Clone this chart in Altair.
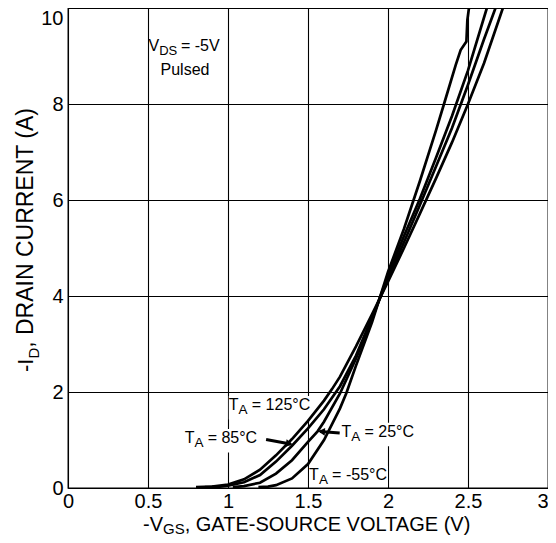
import altair as alt
import pandas as pd

# ---- data ----
series_names = ["TA = 125°C", "TA = 85°C", "TA = 25°C", "TA = -55°C"]

v_125 = [0.80, 0.90, 1.00, 1.10, 1.20, 1.30, 1.40, 1.50, 1.60, 1.65, 1.70, 1.80, 1.90, 2.00, 2.10, 2.20, 2.30, 2.40, 2.50, 2.60, 2.718]
i_125 = [0.02, 0.03, 0.07, 0.18, 0.38, 0.68, 1.02, 1.40, 1.82, 2.06, 2.32, 2.95, 3.62, 4.30, 5.00, 5.72, 6.45, 7.20, 8.00, 8.85, 10.0]

v_85 = [0.855, 0.95, 1.00, 1.10, 1.20, 1.30, 1.40, 1.50, 1.60, 1.70, 1.80, 1.90, 2.00, 2.10, 2.20, 2.30, 2.40, 2.50, 2.60, 2.672]
i_85 = [0.02, 0.03, 0.05, 0.12, 0.27, 0.55, 0.88, 1.24, 1.64, 2.12, 2.76, 3.55, 4.35, 5.12, 5.90, 6.70, 7.50, 8.40, 9.35, 10.0]

v_25 = [1.03, 1.10, 1.20, 1.30, 1.40, 1.50, 1.56, 1.60, 1.70, 1.80, 1.90, 2.00, 2.10, 2.20, 2.30, 2.40, 2.50, 2.618]
i_25 = [0.02, 0.04, 0.11, 0.30, 0.58, 0.96, 1.18, 1.38, 1.97, 2.70, 3.52, 4.42, 5.25, 6.03, 6.88, 7.75, 8.70, 10.0]

v_m55 = [1.19, 1.25, 1.30, 1.40, 1.50, 1.60, 1.70, 1.74, 1.80, 1.90, 2.00, 2.10, 2.20, 2.30, 2.35, 2.423, 2.454, 2.49, 2.496, 2.506]
i_m55 = [0.02, 0.03, 0.06, 0.20, 0.50, 1.00, 1.66, 1.98, 2.55, 3.45, 4.50, 5.40, 6.40, 7.45, 8.00, 8.81, 9.125, 9.30, 9.75, 10.0]

x_ticks = [0, 0.5, 1, 1.5, 2, 2.5, 3]
y_ticks = [0, 2, 4, 6, 8, 10]

# temperature labels (anchor = left end of baseline), text after the subscript
lab_x = [1.005, 0.729, 1.709, 1.507]
lab_y = [1.625, 0.94, 1.07, 0.167]
lab_rest = ["= 125°C", "= 85°C", "= 25°C", "= -55°C"]
lab_wpx = [82, 73, 73, 78]

# arrows: start -> tip
arr_x = [1.238, 1.698]
arr_y = [1.01, 1.147]
arr_x2 = [1.39, 1.575]
arr_y2 = [0.918, 1.177]
head_x = [1.383, 1.585]
head_y = [0.922, 1.175]
head_angle = [10, 4]

FONT = "Liberation Sans"

rows = []
for name, vs, cs in zip(series_names, [v_125, v_85, v_25, v_m55], [i_125, i_85, i_25, i_m55]):
    for k, (v, c) in enumerate(zip(vs, cs)):
        rows.append({"x": v, "y": c, "series": name, "k": k})
curves = pd.DataFrame(rows)

X = alt.X("x:Q", scale=alt.Scale(domain=[0, 3], nice=False, zero=False),
          axis=alt.Axis(values=x_ticks, format="~g", title=None, grid=True, ticks=False,
                        domain=False, labelFlush=False, labelPadding=3,
                        labelAlign={"condition": {"test": "datum.value >= 3", "value": "right"},
                                    "value": "center"}))
Y = alt.Y("y:Q", scale=alt.Scale(domain=[0, 10], nice=False),
          axis=alt.Axis(values=y_ticks, format="d", title=None, grid=True, ticks=False,
                        domain=False, labelFlush=False, labelPadding=5,
                        labelBaseline={"condition": {"test": "datum.value >= 10", "value": "top"},
                                       "value": "middle"}))

base_lab = pd.DataFrame({"x": lab_x, "y": lab_y, "rest": lab_rest, "w": lab_wpx})
base_lab["T"] = "T"
base_lab["A"] = "A"

box_df = pd.DataFrame({
    "x": base_lab["x"],
    "x2": base_lab["x"] + base_lab["w"] / 160.0 + 0.005,
    "y": (base_lab["y"] - 0.2).clip(lower=0.02),
    "y2": base_lab["y"] + 0.29,
})

boxes = alt.Chart(box_df).mark_rect(color="white").encode(
    x=X, x2="x2:Q", y=Y, y2="y2:Q",
)

lines = alt.Chart(curves).mark_line(color="black", strokeWidth=2.7).encode(
    x=X, y=Y, detail="series:N", order="k:Q"
)

arrows_df = pd.DataFrame({"x": arr_x, "y": arr_y, "x2": arr_x2, "y2": arr_y2})
shafts = alt.Chart(arrows_df).mark_rule(color="black", strokeWidth=3).encode(
    x=X, y=Y, x2="x2:Q", y2="y2:Q"
)
heads_df = pd.DataFrame({"x": head_x, "y": head_y, "ang": head_angle,
                         "shape": ["triangle-right", "triangle-left"]})
heads = alt.Chart(heads_df).mark_point(filled=True, color="black", opacity=1, size=60).encode(
    x=X, y=Y, angle=alt.Angle("ang:Q", scale=None), shape=alt.Shape("shape:N", scale=None)
)

txt_T = alt.Chart(base_lab).mark_text(align="left", baseline="alphabetic", fontSize=16,
                                      font=FONT, color="black").encode(x=X, y=Y, text="T:N")
txt_A = alt.Chart(base_lab).mark_text(align="left", baseline="alphabetic", fontSize=13.5,
                                      font=FONT, color="black", dx=9.8, dy=4).encode(x=X, y=Y, text="A:N")
txt_R = alt.Chart(base_lab).mark_text(align="left", baseline="alphabetic", fontSize=16,
                                      font=FONT, color="black", dx=23).encode(x=X, y=Y, text="rest:N")

vds = pd.DataFrame({"x": [0.503], "y": [9.11], "a": ["V"], "b": ["DS"], "c": ["= -5V"]})
vds_a = alt.Chart(vds).mark_text(align="left", baseline="alphabetic", fontSize=16, font=FONT,
                                 color="black").encode(x=X, y=Y, text="a:N")
vds_b = alt.Chart(vds).mark_text(align="left", baseline="alphabetic", fontSize=13, font=FONT,
                                 color="black", dx=10.7, dy=4.5).encode(x=X, y=Y, text="b:N")
vds_c = alt.Chart(vds).mark_text(align="left", baseline="alphabetic", fontSize=16, font=FONT,
                                 color="black", dx=32.5).encode(x=X, y=Y, text="c:N")
pulsed = alt.Chart(pd.DataFrame({"x": [0.731], "y": [8.6], "t": ["Pulsed"]})).mark_text(
    align="center", baseline="alphabetic", fontSize=16, font=FONT, color="black"
).encode(x=X, y=Y, text="t:N")

# axis titles composed of pieces (subscripts)
XT_BASE = 522.5
x_title_1 = alt.Chart(pd.DataFrame({"t": ["-V"]})).mark_text(
    align="left", baseline="alphabetic", fontSize=20, font=FONT, color="black"
).encode(x=alt.value(75), y=alt.value(XT_BASE), text="t:N")
x_title_2 = alt.Chart(pd.DataFrame({"t": ["GS"]})).mark_text(
    align="left", baseline="alphabetic", fontSize=15, font=FONT, color="black"
).encode(x=alt.value(95), y=alt.value(XT_BASE + 3), text="t:N")
x_title_3 = alt.Chart(pd.DataFrame({"t": [", GATE-SOURCE VOLTAGE (V)"]})).mark_text(
    align="left", baseline="alphabetic", fontSize=20, font=FONT, color="black"
).encode(x=alt.value(116.7), y=alt.value(XT_BASE), text="t:N")

y_title_1 = alt.Chart(pd.DataFrame({"t": ["-I"]})).mark_text(
    align="left", baseline="alphabetic", fontSize=22, font=FONT, color="black", angle=270
).encode(x=alt.value(-35), y=alt.value(364), text="t:N")
y_title_2 = alt.Chart(pd.DataFrame({"t": ["D"]})).mark_text(
    align="left", baseline="alphabetic", fontSize=15, font=FONT, color="black", angle=270
).encode(x=alt.value(-29.5), y=alt.value(350.6), text="t:N")
y_title_3 = alt.Chart(pd.DataFrame({"t": [", DRAIN CURRENT (A)"]})).mark_text(
    align="left", baseline="alphabetic", fontSize=23, font=FONT, color="black", angle=270
).encode(x=alt.value(-35), y=alt.value(339.8), text="t:N")

chart = alt.layer(
    boxes, lines, shafts, heads, txt_T, txt_A, txt_R, vds_a, vds_b, vds_c, pulsed,
    x_title_1, x_title_2, x_title_3, y_title_1, y_title_2, y_title_3
).properties(
    width=480, height=480,
    autosize=alt.AutoSizeParams(type="none"),
    padding={"left": 60, "top": 0, "right": 0, "bottom": 47},
).configure(
    font=FONT
).configure_axis(
    gridColor="black", gridWidth=1.1, gridOpacity=1,
    labelFont=FONT, labelFontSize=20, labelColor="black",
).configure_view(
    stroke="black", strokeWidth=1.3
)

chart.save("out.html", embed_options={"renderer": "svg", "actions": False})
